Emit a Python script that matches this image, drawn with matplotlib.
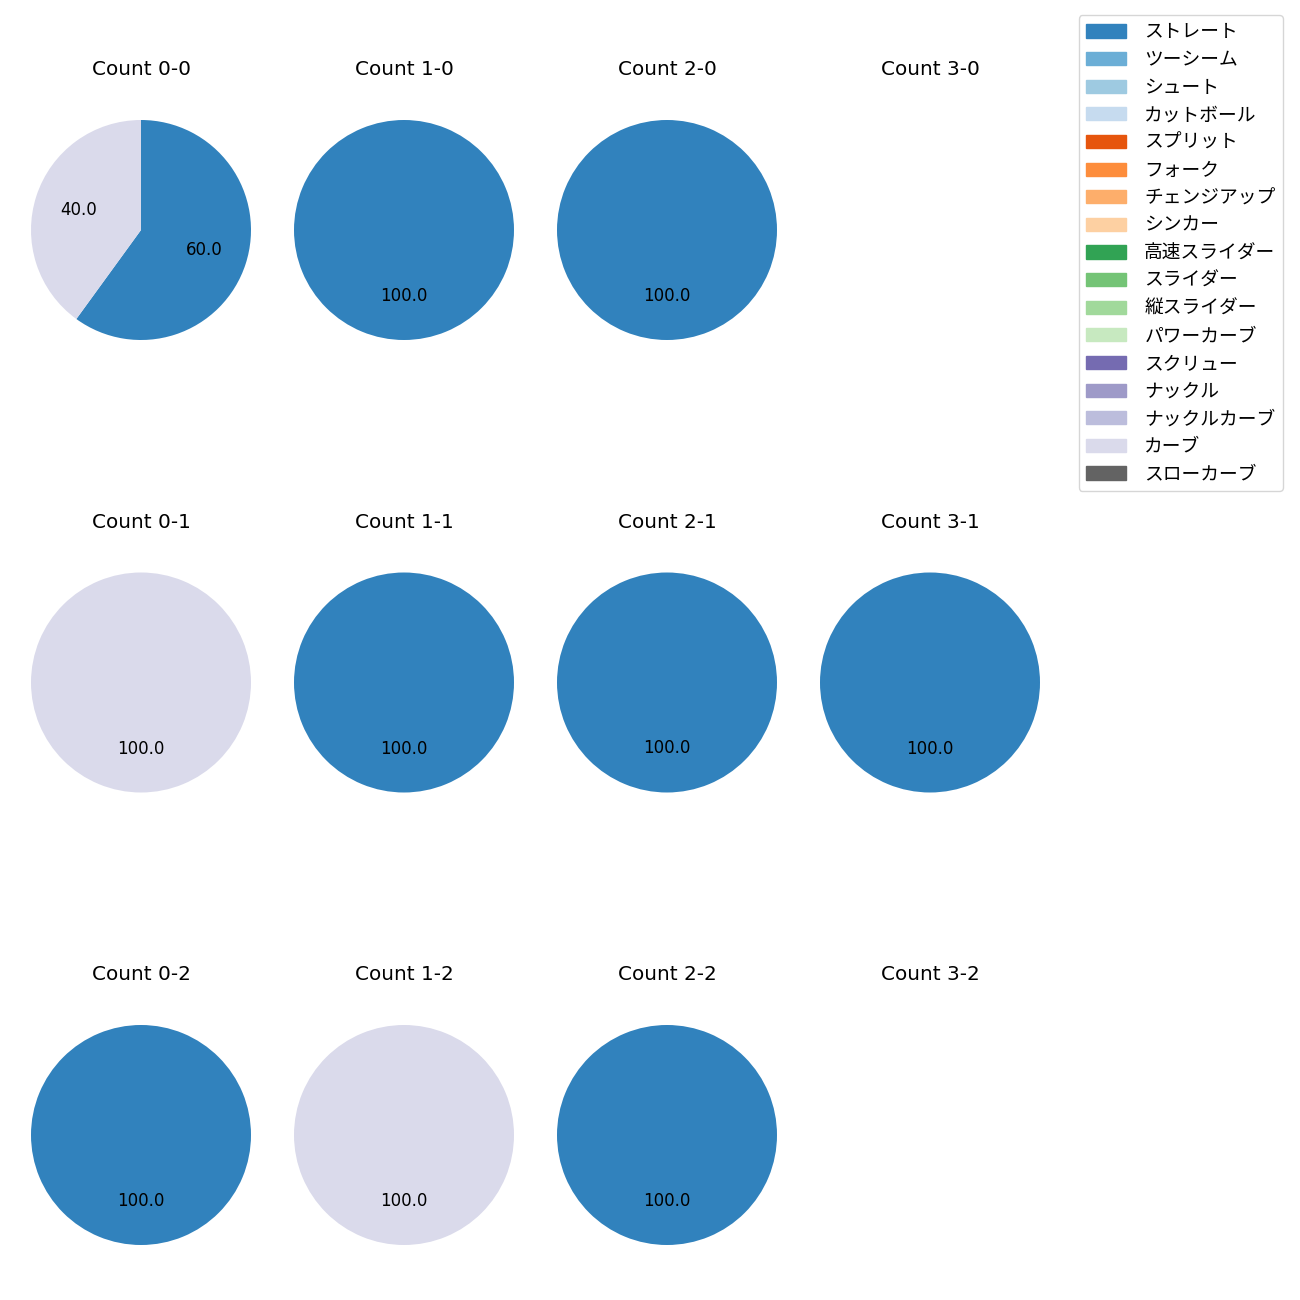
import numpy as np
import matplotlib
matplotlib.use("Agg")
import matplotlib.pyplot as plt
from matplotlib.patches import Patch

plt.rcParams['font.family'] = ['DejaVu Sans', 'Noto Sans CJK JP']

# pitch types (legend order) and colours from tab20c
pitch_types = ['ストレート', 'ツーシーム', 'シュート', 'カットボール', 'スプリット', 'フォーク',
               'チェンジアップ', 'シンカー', '高速スライダー', 'スライダー', '縦スライダー',
               'パワーカーブ', 'スクリュー', 'ナックル', 'ナックルカーブ', 'カーブ', 'スローカーブ']
cmap = plt.get_cmap('tab20c')
colors = [cmap(i) for i in range(len(pitch_types))]

# counts (balls-strikes) and pitch shares, {pitch: percent}
balls = [0, 1, 2, 3]
strikes = [0, 1, 2]
shares = {
    (0, 0): {'ストレート': 60, 'カーブ': 40},
    (1, 0): {'ストレート': 100},
    (2, 0): {'ストレート': 100},
    (3, 0): {},
    (0, 1): {'カーブ': 100},
    (1, 1): {'ストレート': 100},
    (2, 1): {'ストレート': 100},
    (3, 1): {'ストレート': 100},
    (0, 2): {'ストレート': 100},
    (1, 2): {'カーブ': 100},
    (2, 2): {'ストレート': 100},
    (3, 2): {},
}

W = H = 1300
fig = plt.figure(figsize=(13, 13), dpi=100)

size = 275  # px, square box of each pie axes
for s in strikes:
    for b in balls:
        cx = 141 + 263 * b
        cy = 230 + 452.5 * s
        ax = fig.add_axes([(cx - size / 2) / W, 1 - (cy + size / 2) / H, size / W, size / H])
        ax.set_title(f'Count {b}-{s}', fontsize=14.4, pad=12.3)
        data = shares[(b, s)]
        if data:
            names = [p for p in pitch_types if p in data]
            vals = [data[p] for p in names]
            cols = [colors[pitch_types.index(p)] for p in names]
            ax.pie(vals, colors=cols, autopct='%.1f', startangle=90, counterclock=False,
                   textprops={'fontsize': 12})
        ax.set_xlim(-1.25, 1.25)
        ax.set_ylim(-1.25, 1.25)
        ax.set_aspect('equal')
        ax.axis('off')

handles = [Patch(color=c, label=p) for p, c in zip(pitch_types, colors)]
fig.legend(handles=handles, loc='upper right', bbox_to_anchor=(1283 / W, 1 - 15 / H),
           borderaxespad=0, fontsize=13.5, handlelength=2.1, handletextpad=1.0,
           labelspacing=0.46)

fig.savefig('out.png', dpi=100)
